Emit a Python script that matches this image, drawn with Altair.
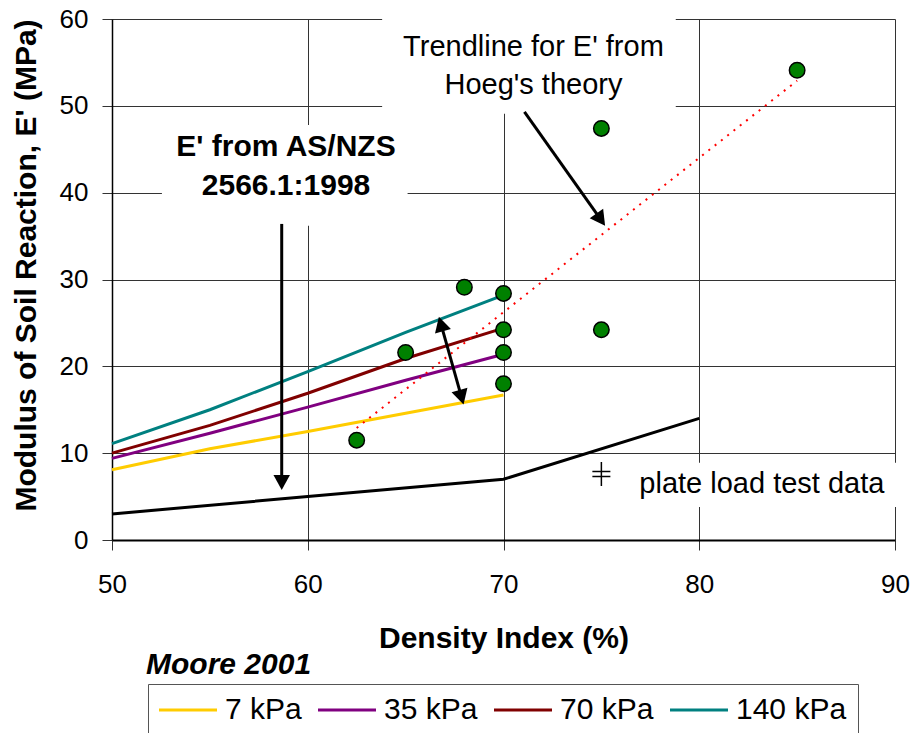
import math
import altair as alt
import pandas as pd

# ---------------- chart values ----------------
moore_x = [50, 55, 60, 65, 70]
moore_series = ["7 kPa", "35 kPa", "70 kPa", "140 kPa"]
moore_7 = [8.1, 10.5, 12.5, 14.6, 16.7]
moore_35 = [9.4, 12.3, 15.3, 18.4, 21.4]
moore_70 = [10.0, 13.2, 16.9, 20.9, 24.4]
moore_140 = [11.1, 15.0, 19.4, 23.9, 28.2]
moore_colors = ["#FFCC00", "#800080", "#800000", "#008080"]

asnzs_x = [50, 60, 70, 80]
asnzs_y = [3.0, 5.0, 7.0, 14.0]

hoeg_x = [62.5, 85.0]
hoeg_y = [12.9, 52.9]

test_x = [62.5, 65, 68, 70, 70, 70, 70, 75, 75, 85]
test_y = [11.5, 21.6, 29.1, 28.4, 24.2, 21.6, 18.0, 47.4, 24.2, 54.1]

plate_x = [75.0]
plate_y = [7.6]

x_ticks = [50, 60, 70, 80, 90]
y_ticks = [0, 10, 20, 30, 40, 50, 60]

legend_title = "Moore 2001"
x_title = "Density Index (%)"
y_title = "Modulus of Soil Reaction, E' (MPa)"

# ---------------- annotations (data units) ----------------
notes_text = ["Trendline for E' from\nHoeg's theory", "E' from AS/NZS\n2566.1:1998", "plate load test data"]
notes_x = [71.53, 58.89, 76.94]
notes_y = [58.38, 46.95, 8.01]

# white boxes behind the annotation texts (they interrupt the gridlines)
box_x = [63.8, 52.55, 76.2]
box_x2 = [78.8, 65.1, 91.0]
box_y = [49.1, 36.2, 3.8]
box_y2 = [61.0, 47.8, 8.9]

# arrows: start -> tip, and whether the start also has a head
arrow_x0 = [58.67, 67.96, 71.07]
arrow_y0 = [36.4, 15.6, 49.3]
arrow_x1 = [58.67, 66.70, 75.19]
arrow_y1 = [5.76, 25.7, 36.2]
arrow_double = [False, True, False]

# ---------------- layout ----------------
W, H = 783, 521
XMIN, XMAX, YMIN, YMAX = 50, 90, 0, 60
PX = W / (XMAX - XMIN)
PY = H / (YMAX - YMIN)
FONT = "Liberation Sans"

xs = alt.Scale(domain=[XMIN, XMAX], nice=False, zero=False)
ys = alt.Scale(domain=[YMIN, YMAX], nice=False, zero=False)

x_axis = alt.Axis(values=x_ticks, grid=True, title=x_title, format="d",
                  tickSize=10, labelPadding=21, labelFontSize=26, labelFlush=False,
                  domainColor="black", domainWidth=2,
                  titleFontSize=30, titleFontWeight="bold",
                  titleY=107, titleBaseline="alphabetic")
y_axis = alt.Axis(values=y_ticks, grid=True, title=y_title, format="d",
                  tickSize=10, labelPadding=14, labelFontSize=26, labelFlush=False,
                  domainColor="black", domainWidth=1.5,
                  titleFontSize=30, titleFontWeight="bold",
                  titleX=-77, titleY=246, titleAngle=270,
                  titleAlign="center", titleBaseline="alphabetic")

# ---------------- tables ----------------
moore_rows = []
for name, vals in zip(moore_series, [moore_7, moore_35, moore_70, moore_140]):
    for xv, yv in zip(moore_x, vals):
        moore_rows.append({"x": xv, "y": yv, "series": name})
moore_df = pd.DataFrame(moore_rows)
asnzs_df = pd.DataFrame({"x": asnzs_x, "y": asnzs_y})
hoeg_df = pd.DataFrame({"x": hoeg_x, "y": hoeg_y})
test_df = pd.DataFrame({"x": test_x, "y": test_y})
plate_df = pd.DataFrame({"x": plate_x, "y": plate_y})
box_df = pd.DataFrame({"x": box_x, "x2": box_x2, "y": box_y, "y2": box_y2})


def to_px(x, y):
    return (x - XMIN) * PX, (YMAX - y) * PY


def from_px(px, py):
    return XMIN + px / PX, YMAX - py / PY


HEAD_LEN = 15
rule_rows, head_rows = [], []
for x0, y0, x1, y1, dbl in zip(arrow_x0, arrow_y0, arrow_x1, arrow_y1, arrow_double):
    p0 = to_px(x0, y0)
    p1 = to_px(x1, y1)
    dx, dy = p1[0] - p0[0], p1[1] - p0[1]
    L = math.hypot(dx, dy)
    ux, uy = dx / L, dy / L
    ang = math.degrees(math.atan2(ux, -uy)) % 360
    head_rows.append({"x": x1, "y": y1, "angle": ang})
    e1 = from_px(p1[0] - ux * (HEAD_LEN - 4), p1[1] - uy * (HEAD_LEN - 4))
    if dbl:
        head_rows.append({"x": x0, "y": y0, "angle": (ang + 180) % 360})
        e0 = from_px(p0[0] + ux * (HEAD_LEN - 4), p0[1] + uy * (HEAD_LEN - 4))
    else:
        e0 = (x0, y0)
    rule_rows.append({"x": e0[0], "y": e0[1], "x2": e1[0], "y2": e1[1]})
rule_df = pd.DataFrame(rule_rows)
head_df = pd.DataFrame(head_rows)

# ---------------- layers ----------------
boxes = alt.Chart(box_df).mark_rect(color="white").encode(
    x=alt.X("x:Q", scale=xs, axis=x_axis), x2="x2:Q",
    y=alt.Y("y:Q", scale=ys, axis=y_axis), y2="y2:Q")

moore = alt.Chart(moore_df).mark_line(strokeWidth=3).encode(
    x=alt.X("x:Q", scale=xs), y=alt.Y("y:Q", scale=ys),
    color=alt.Color("series:N",
                    scale=alt.Scale(domain=moore_series, range=moore_colors),
                    sort=moore_series,
                    legend=alt.Legend(title=None, orient="none", legendX=36, legendY=665,
                                      direction="horizontal",
                                      symbolType="M-4,0H4", symbolSize=210.25,
                                      symbolStrokeWidth=3, symbolOffset=14,
                                      labelOffset=22, labelFontSize=30, labelFont=FONT,
                                      labelColor="black", padding=11,
                                      strokeColor="#555555", fillColor="white",
                                      columnPadding=10)))

asnzs = alt.Chart(asnzs_df).mark_line(color="black", strokeWidth=3).encode(
    x=alt.X("x:Q", scale=xs), y=alt.Y("y:Q", scale=ys))

hoeg = alt.Chart(hoeg_df).mark_line(color="#FF0000", strokeWidth=2, strokeDash=[2, 6]).encode(
    x=alt.X("x:Q", scale=xs), y=alt.Y("y:Q", scale=ys))

points = alt.Chart(test_df).mark_circle(size=240, color="#008000", opacity=1,
                                        stroke="black", strokeWidth=1.5).encode(
    x=alt.X("x:Q", scale=xs), y=alt.Y("y:Q", scale=ys))

plate = alt.Chart(plate_df).mark_point(
    shape="M-0.75,-0.2H0.75M-0.75,0.2H0.75M0,-1V1", size=576, filled=False,
    stroke="black", strokeWidth=1.5, opacity=1).encode(
    x=alt.X("x:Q", scale=xs), y=alt.Y("y:Q", scale=ys))

rules = alt.Chart(rule_df).mark_rule(color="black", strokeWidth=3).encode(
    x=alt.X("x:Q", scale=xs), y=alt.Y("y:Q", scale=ys), x2="x2:Q", y2="y2:Q")

heads = alt.Chart(head_df).mark_point(
    shape="M0,0L0.55,1L-0.55,1Z", size=900, filled=True, color="black",
    strokeWidth=0, opacity=1).encode(
    x=alt.X("x:Q", scale=xs), y=alt.Y("y:Q", scale=ys),
    angle=alt.Angle("angle:Q", scale=None))

notes_df = pd.DataFrame({"x": notes_x, "y": notes_y, "t": notes_text})

note_trend = alt.Chart(notes_df.iloc[[0]]).mark_text(
    font=FONT, fontSize=29, align="center", baseline="top", lineBreak="\n",
    lineHeight=38, color="black").encode(
    x=alt.X("x:Q", scale=xs), y=alt.Y("y:Q", scale=ys), text="t:N")

note_as = alt.Chart(notes_df.iloc[[1]]).mark_text(
    font=FONT, fontSize=30, fontWeight="bold", align="center", baseline="top",
    lineBreak="\n", lineHeight=39, color="black").encode(
    x=alt.X("x:Q", scale=xs), y=alt.Y("y:Q", scale=ys), text="t:N")

note_plate = alt.Chart(notes_df.iloc[[2]]).mark_text(
    font=FONT, fontSize=29, align="left", baseline="top", color="black").encode(
    x=alt.X("x:Q", scale=xs), y=alt.Y("y:Q", scale=ys), text="t:N")

leg_title = alt.Chart(pd.DataFrame({"t": [legend_title]})).mark_text(
    font=FONT, fontSize=30, fontWeight="bold", fontStyle="italic",
    align="left", baseline="alphabetic", color="black").encode(
    x=alt.value(34), y=alt.value(655), text="t:N")

chart = alt.layer(
    boxes, moore, asnzs, hoeg, points, plate, rules, heads,
    note_trend, note_as, note_plate, leg_title
).properties(
    width=W, height=H,
    autosize=alt.AutoSizeParams(type="none"),
    padding={"left": 112, "top": 19, "right": 21, "bottom": 193},
    background="white",
).configure(
    font=FONT
).configure_axis(
    gridColor="#333333", gridWidth=1, gridOpacity=1,
    tickColor="#333333", tickWidth=1,
    labelColor="black", titleColor="black", labelFont=FONT, titleFont=FONT,
).configure_view(strokeWidth=0)

chart.save("out.html", embed_options={"renderer": "svg", "actions": False})
